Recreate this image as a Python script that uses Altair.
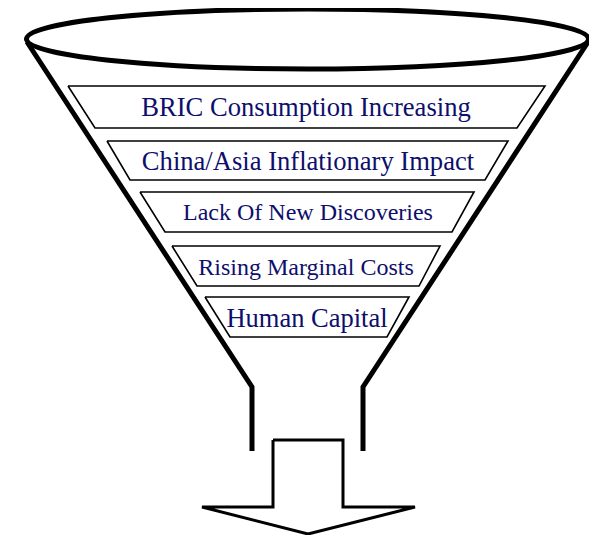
import altair as alt
import pandas as pd

# ---- diagram content (pixel coordinates of the picture) ----
labels = [
    "BRIC Consumption Increasing",
    "China/Asia Inflationary Impact",
    "Lack Of New Discoveries",
    "Rising Marginal Costs",
    "Human Capital",
]
band_top_y = [86, 141, 192, 246, 297]
band_bottom_y = [128, 180, 232, 286, 337]
band_top_left = [68, 107, 140, 172, 205]
band_top_right = [545, 508, 474, 440, 409]
band_bottom_left = [95, 130, 165, 197, 230]
band_bottom_right = [517, 485, 452, 419, 387]
label_x = [306, 308, 308, 306, 307]
label_y = [108, 162, 213, 268, 319]

funnel_left_x = [27, 252, 252]
funnel_right_x = [588, 363, 363]
funnel_y = [42, 387, 451]

arrow_x = [273, 343, 343, 415, 308, 202, 273, 273]
arrow_y = [440, 440, 507, 507, 534, 507, 507, 440]

rim_center = (307.5, 39)
rim_half_w = 281
rim_half_h = 30

# ---- styles ----
label_font_sizes = {labels[0]: 26.6, labels[1]: 26.6, labels[2]: 24, labels[3]: 24, labels[4]: 26.5}
text_color = "#0e0e6c"

# ---- tables ----
band_rows = []
for i, lab in enumerate(labels):
    pts = [
        (band_top_left[i], band_top_y[i]),
        (band_top_right[i], band_top_y[i]),
        (band_bottom_right[i], band_bottom_y[i]),
        (band_bottom_left[i], band_bottom_y[i]),
        (band_top_left[i], band_top_y[i]),
    ]
    for j, (px, py) in enumerate(pts):
        band_rows.append({"band": lab, "o": j, "x": px, "y": py})
bands = pd.DataFrame(band_rows)

label_df = pd.DataFrame({
    "label": labels,
    "x": label_x,
    "y": label_y,
    "fs": [label_font_sizes[l] for l in labels],
})

funnel_rows = []
for side, xs in (("left", funnel_left_x), ("right", funnel_right_x)):
    for j, (px, py) in enumerate(zip(xs, funnel_y)):
        funnel_rows.append({"side": side, "o": j, "x": px, "y": py})
funnel = pd.DataFrame(funnel_rows)

arrow = pd.DataFrame({"o": list(range(len(arrow_x))), "x": arrow_x, "y": arrow_y})

rim = pd.DataFrame({"x": [rim_center[0]], "y": [rim_center[1]]})

W, H = 581, 527
xs = alt.Scale(domain=[8, 8 + W], nice=False, zero=False)
ys = alt.Scale(domain=[8, 8 + H], nice=False, zero=False, reverse=True)
X = alt.X("x:Q", scale=xs, axis=None)
Y = alt.Y("y:Q", scale=ys, axis=None)

# ellipse as a custom symbol path (unit box -1..1)
b = rim_half_h / rim_half_w
k = 0.5523
ellipse_path = (
    f"M -1 0 C -1 {-k*b:.4f} {-k:.4f} {-b:.4f} 0 {-b:.4f} "
    f"C {k:.4f} {-b:.4f} 1 {-k*b:.4f} 1 0 "
    f"C 1 {k*b:.4f} {k:.4f} {b:.4f} 0 {b:.4f} "
    f"C {-k:.4f} {b:.4f} -1 {k*b:.4f} -1 0 Z"
)

rim_layer = alt.Chart(rim).mark_point(
    shape=ellipse_path, filled=False, stroke="black", strokeWidth=5, opacity=1
).encode(x=X, y=Y, size=alt.value((2 * rim_half_w) ** 2))

funnel_layer = alt.Chart(funnel).mark_line(
    color="black", strokeWidth=5, strokeJoin="miter"
).encode(x=X, y=Y, detail="side:N", order="o:Q")

band_layer = alt.Chart(bands).mark_line(
    color="black", strokeWidth=1.6, strokeJoin="miter"
).encode(x=X, y=Y, detail="band:N", order="o:Q")

text_layer = alt.Chart(label_df).mark_text(
    font="Liberation Serif", color=text_color, baseline="middle", align="center"
).encode(x=X, y=Y, text="label:N", size=alt.Size("fs:Q", scale=None, legend=None))

arrow_layer = alt.Chart(arrow).mark_line(
    color="black", strokeWidth=3, strokeJoin="miter"
).encode(x=X, y=Y, order="o:Q")

chart = alt.layer(
    rim_layer, funnel_layer, band_layer, text_layer, arrow_layer
).properties(
    width=W, height=H, autosize=alt.AutoSizeParams(type="none"), padding=0
).configure_view(stroke=None)

chart.save("out.html", embed_options={"renderer": "svg", "actions": False})
